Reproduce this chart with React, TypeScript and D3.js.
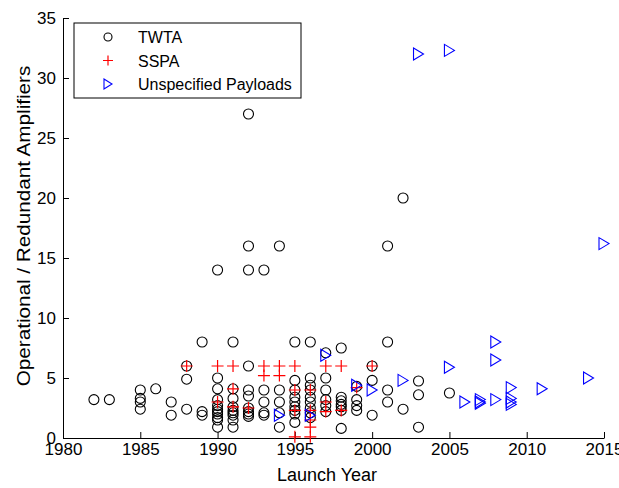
import React, { useEffect, useRef } from "react";
import * as d3 from "d3";

// [launch year, operational / redundant ratio]
const twta: [number, number][] = [
  [1982, 3.2], [1983, 3.2],
  [1985, 4.0], [1985, 3.3], [1985, 3.0], [1985, 2.4],
  [1986, 4.1],
  [1987, 3.0], [1987, 1.9],
  [1988, 6.0], [1988, 4.9], [1988, 2.4],
  [1989, 8.0], [1989, 2.2], [1989, 1.9],
  [1990, 14], [1990, 5.0], [1990, 4.1], [1990, 3.2], [1990, 2.7], [1990, 2.4],
  [1990, 2.2], [1990, 2.0], [1990, 1.7], [1990, 1.5], [1990, 0.9],
  [1991, 8.0], [1991, 4.1], [1991, 3.3], [1991, 2.6], [1991, 2.3], [1991, 2.1],
  [1991, 1.9], [1991, 1.5], [1991, 0.9],
  [1992, 27], [1992, 16], [1992, 14], [1992, 6.0], [1992, 4.0], [1992, 3.5],
  [1992, 2.5], [1992, 2.2], [1992, 2.0], [1992, 1.8],
  [1993, 14], [1993, 4.0], [1993, 3.0], [1993, 2.1], [1993, 1.9],
  [1994, 16], [1994, 4.0], [1994, 3.0], [1994, 2.1], [1994, 0.9],
  [1995, 8.0], [1995, 4.8], [1995, 4.0], [1995, 3.4], [1995, 3.0], [1995, 2.6],
  [1995, 2.3], [1995, 2.0], [1995, 1.3],
  [1996, 8.0], [1996, 5.0], [1996, 4.4], [1996, 4.0], [1996, 3.4], [1996, 3.0],
  [1996, 2.5], [1996, 2.1], [1996, 1.7],
  [1997, 7.1], [1997, 5.0], [1997, 4.0], [1997, 3.2], [1997, 2.7], [1997, 2.2],
  [1998, 7.5], [1998, 3.4], [1998, 3.1], [1998, 2.8], [1998, 2.6], [1998, 2.3], [1998, 0.8],
  [1999, 4.3], [1999, 3.2], [1999, 2.7], [1999, 2.3],
  [2000, 6.0], [2000, 4.8], [2000, 1.9],
  [2001, 16], [2001, 8.0], [2001, 4.0], [2001, 3.0],
  [2002, 20], [2002, 2.4],
  [2003, 4.75], [2003, 3.6], [2003, 0.9],
  [2005, 3.75],
];

const sspa: [number, number][] = [
  [1988, 6.0],
  [1990, 6.0], [1990, 3.0],
  [1991, 6.0], [1991, 4.1], [1991, 2.6],
  [1992, 2.5],
  [1993, 6.0], [1993, 5.2],
  [1994, 6.0], [1994, 5.2],
  [1995, 6.0], [1995, 4.0], [1995, 2.3], [1995, 0.1],
  [1996, 4.0], [1996, 2.3], [1996, 1.5], [1996, 0.9], [1996, 0.1],
  [1997, 6.0], [1997, 3.0], [1997, 2.2],
  [1998, 6.0], [1998, 2.3],
  [1999, 4.2],
  [2000, 6.0],
];

const unspecified: [number, number][] = [
  [1994, 1.9], [1996, 1.9], [1997, 6.9], [1999, 4.4], [2000, 4.0], [2002, 4.8],
  [2003, 32.0], [2005, 32.3], [2005, 5.9],
  [2006, 3.0], [2007, 3.2], [2007, 3.0], [2007, 2.9],
  [2008, 8.0], [2008, 6.5], [2008, 3.2],
  [2009, 4.2], [2009, 3.3], [2009, 3.0], [2009, 2.8],
  [2011, 4.1], [2014, 5.0], [2015, 16.2],
];

const xTicks = [1980, 1985, 1990, 1995, 2000, 2005, 2010, 2015];
const yTicks = [0, 5, 10, 15, 20, 25, 30, 35];
const legendLabels = ["TWTA", "SSPA", "Unspecified Payloads"];

const W = 619;
const H = 488;
const font = "Arial, 'Liberation Sans', Helvetica, sans-serif";

const App: React.FC = () => {
  const svgRef = useRef<SVGSVGElement | null>(null);

  useEffect(() => {
    if (!svgRef.current) return;
    const svg = d3.select(svgRef.current);
    svg.selectAll("*").remove();

    const x = d3.scaleLinear().domain([1980, 2015]).range([63, 604]);
    const y = d3.scaleLinear().domain([0, 35]).range([438, 18]);

    // axes (MATLAB style: ticks inward, no box)
    const gx = svg.append("g")
      .attr("transform", `translate(0,${y(0)})`)
      .call(d3.axisBottom(x).tickValues(xTicks).tickFormat(d3.format("d")).tickSizeInner(-6).tickSizeOuter(0).tickPadding(5));
    const gy = svg.append("g")
      .attr("transform", `translate(${x(1980)},0)`)
      .call(d3.axisLeft(y).tickValues(yTicks).tickSizeInner(-6).tickSizeOuter(0).tickPadding(7));
    [gx, gy].forEach(g => {
      g.selectAll("text").attr("font-family", font).attr("font-size", 17).attr("fill", "#000");
      g.selectAll("line, path").attr("stroke", "#000");
    });

    // TWTA circles
    svg.append("g").selectAll("circle")
      .data(twta)
      .enter()
      .append("circle")
      .attr("cx", d => x(d[0]))
      .attr("cy", d => y(d[1]))
      .attr("r", 5)
      .attr("fill", "none")
      .attr("stroke", "#000")
      .attr("stroke-width", 1.1);

    // SSPA crosses
    const cross = (s: number) => `M${-s},0H${s}M0,${-s}V${s}`;
    svg.append("g").selectAll("path")
      .data(sspa)
      .enter()
      .append("path")
      .attr("transform", d => `translate(${x(d[0])},${y(d[1])})`)
      .attr("d", cross(6))
      .attr("stroke", "#ff0000")
      .attr("stroke-width", 1.2)
      .attr("fill", "none");

    // Unspecified payload triangles (pointing right)
    const tri = (w: number, h: number) => `M${-w / 2},${-h / 2}L${w / 2},0L${-w / 2},${h / 2}Z`;
    svg.append("g").selectAll("path")
      .data(unspecified)
      .enter()
      .append("path")
      .attr("transform", d => `translate(${x(d[0])},${y(d[1])})`)
      .attr("d", tri(10, 12))
      .attr("stroke", "#0000ff")
      .attr("stroke-width", 1.1)
      .attr("fill", "none");

    // axis labels
    svg.append("text")
      .attr("x", 327).attr("y", 481)
      .attr("text-anchor", "middle")
      .attr("font-family", font).attr("font-size", 18)
      .text("Launch Year");
    svg.append("text")
      .attr("transform", `translate(30,226) rotate(-90) scale(1.15,1)`)
      .attr("text-anchor", "middle")
      .attr("font-family", font).attr("font-size", 18)
      .text("Operational / Redundant Amplifiers");

    // legend
    const lg = svg.append("g");
    lg.append("rect")
      .attr("x", 74).attr("y", 23).attr("width", 227).attr("height", 75)
      .attr("fill", "#fff").attr("stroke", "#000").attr("stroke-width", 1);
    legendLabels.forEach((label, i) => {
      const cy = 37 + i * 23.5;
      const mx = 108;
      if (i === 0) {
        lg.append("circle").attr("cx", mx).attr("cy", cy).attr("r", 4)
          .attr("fill", "none").attr("stroke", "#000").attr("stroke-width", 1.1);
      } else if (i === 1) {
        lg.append("path").attr("transform", `translate(${mx},${cy})`).attr("d", cross(5))
          .attr("stroke", "#ff0000").attr("stroke-width", 1.2);
      } else {
        lg.append("path").attr("transform", `translate(${mx},${cy})`).attr("d", tri(8, 10))
          .attr("stroke", "#0000ff").attr("stroke-width", 1.1).attr("fill", "none");
      }
      lg.append("text")
        .attr("x", 138).attr("y", cy + 6)
        .attr("font-family", font).attr("font-size", 16)
        .text(label);
    });
  }, []);

  return (
    <svg ref={svgRef} width={W} height={H} style={{ position: "absolute", left: 0, top: 0, background: "#fff" }} />
  );
};

export default App;
